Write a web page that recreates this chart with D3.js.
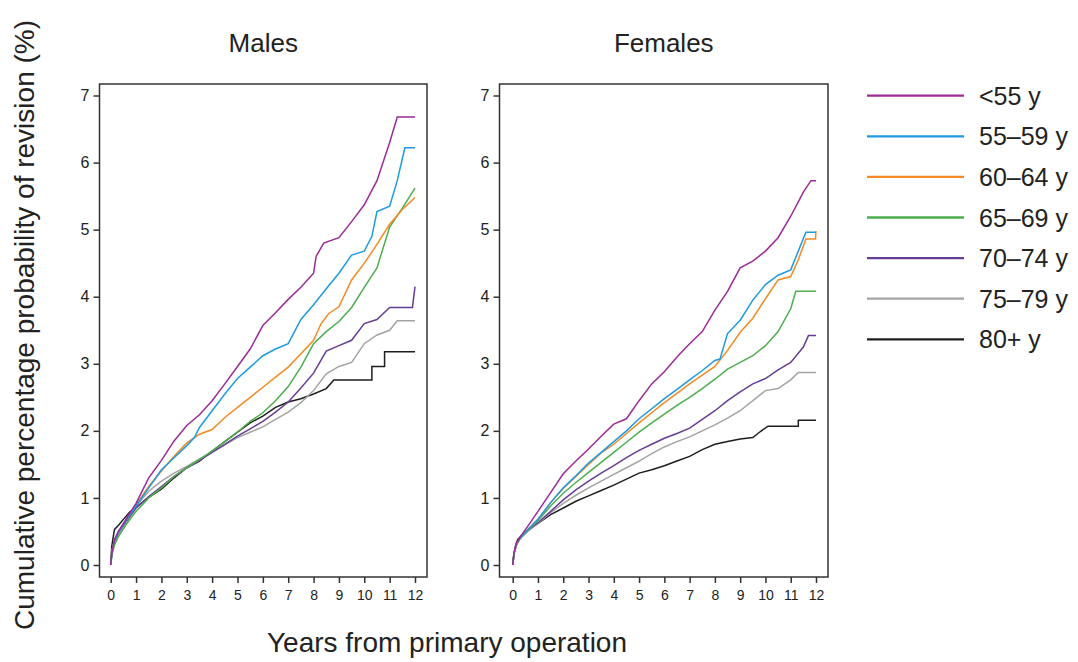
<!DOCTYPE html>
<html>
<head>
<meta charset="utf-8">
<script src="https://cdn.jsdelivr.net/npm/d3@7"></script>
<style>
  body { margin: 0; background: #fff; }
  text { font-family: "Liberation Sans", Arial, Helvetica, sans-serif; fill: #222; }
</style>
</head>
<body>
<div id="chart"></div>
<script>
  var width = 1078;
  var height = 662;

  // age groups for the legend
  var ageGroups = ["<55 y", "55\u201359 y", "60\u201364 y", "65\u201369 y", "70\u201374 y", "75\u201379 y", "80+ y"];
  var lineColors = ["#9c2a98", "#1d9ae0", "#f38a24", "#4cae4c", "#663d94", "#a3a3a3", "#1e1e1e"];

  var yearTicks = [0, 1, 2, 3, 4, 5, 6, 7, 8, 9, 10, 11, 12];
  var pctTicks = [0, 1, 2, 3, 4, 5, 6, 7];

  // males, [years, cumulative %]
  var maleLt55 = [[0,0],[0.05,0.2],[0.15,0.38],[0.3,0.5],[0.6,0.68],[1,0.92],[1.5,1.3],[2,1.56],[2.5,1.85],[3,2.08],[3.5,2.24],[4,2.45],[4.5,2.7],[5,2.96],[5.5,3.22],[6,3.57],[6.5,3.76],[7,3.96],[7.5,4.14],[8,4.35],[8.1,4.6],[8.4,4.8],[9,4.88],[9.5,5.12],[10,5.37],[10.5,5.73],[11,6.3],[11.3,6.68],[12,6.68]];
  var male5559 = [[0,0],[0.05,0.2],[0.15,0.36],[0.3,0.48],[0.6,0.66],[1,0.88],[1.5,1.15],[2,1.42],[2.5,1.6],[3,1.78],[3.3,1.9],[3.5,2.05],[4,2.3],[4.5,2.55],[5,2.78],[5.5,2.95],[6,3.12],[6.5,3.22],[7,3.3],[7.5,3.66],[8,3.88],[8.5,4.12],[9,4.35],[9.5,4.62],[10,4.68],[10.3,4.9],[10.5,5.27],[11,5.35],[11.3,5.73],[11.6,6.22],[12,6.22]];
  var male6064 = [[0,0],[0.05,0.22],[0.15,0.38],[0.3,0.48],[0.6,0.66],[1,0.9],[1.5,1.17],[2,1.4],[2.5,1.62],[3,1.82],[3.5,1.95],[4,2.02],[4.5,2.2],[5,2.35],[5.5,2.5],[6,2.65],[6.5,2.8],[7,2.95],[7.5,3.15],[8,3.35],[8.3,3.6],[8.6,3.75],[9,3.85],[9.5,4.25],[10,4.5],[10.5,4.78],[11,5.08],[11.5,5.3],[12,5.48]];
  var male6569 = [[0,0],[0.05,0.15],[0.15,0.3],[0.3,0.42],[0.6,0.6],[1,0.8],[1.5,1.0],[2,1.15],[2.5,1.32],[3,1.45],[3.5,1.57],[4,1.7],[4.5,1.84],[5,1.98],[5.5,2.14],[6,2.27],[6.5,2.45],[7,2.66],[7.5,2.95],[8,3.3],[8.5,3.48],[9,3.63],[9.5,3.84],[10,4.14],[10.5,4.43],[11,5.04],[11.5,5.32],[12,5.62]];
  var male7074 = [[0,0],[0.05,0.2],[0.15,0.35],[0.3,0.47],[0.6,0.64],[1,0.85],[1.5,1.02],[2,1.17],[2.5,1.32],[3,1.45],[3.5,1.56],[4,1.68],[4.5,1.8],[5,1.92],[5.5,2.03],[6,2.14],[6.5,2.28],[7,2.43],[7.5,2.64],[8,2.86],[8.5,3.19],[9,3.27],[9.5,3.35],[10,3.6],[10.5,3.66],[11,3.84],[11.9,3.84],[12,4.15]];
  var male7579 = [[0,0],[0.05,0.2],[0.15,0.36],[0.3,0.48],[0.6,0.66],[1,0.88],[1.5,1.1],[2,1.25],[2.5,1.37],[3,1.47],[3.5,1.58],[4,1.68],[4.5,1.79],[5,1.9],[5.5,1.98],[6,2.06],[6.5,2.17],[7,2.28],[7.5,2.42],[8,2.6],[8.5,2.85],[9,2.96],[9.5,3.02],[10,3.3],[10.5,3.43],[11,3.5],[11.3,3.64],[12,3.64]];
  var male80 = [[0,0],[0.04,0.27],[0.1,0.42],[0.15,0.53],[0.3,0.59],[0.5,0.68],[0.75,0.79],[1,0.86],[1.5,1.01],[2,1.13],[2.5,1.3],[3,1.45],[3.5,1.55],[4,1.7],[4.5,1.84],[5,1.98],[5.5,2.12],[6,2.22],[6.5,2.35],[7,2.43],[7.5,2.48],[8,2.55],[8.5,2.63],[8.8,2.76],[10.3,2.76],[10.3,2.96],[10.8,2.96],[10.8,3.18],[12,3.18]];

  // females
  var femaleLt55 = [[0,0],[0.05,0.18],[0.15,0.33],[0.3,0.42],[0.6,0.58],[1,0.8],[1.5,1.08],[2,1.36],[2.5,1.55],[3,1.73],[3.5,1.92],[4,2.1],[4.5,2.18],[5,2.45],[5.5,2.7],[6,2.88],[6.5,3.1],[7,3.3],[7.5,3.48],[8,3.8],[8.5,4.08],[9,4.43],[9.5,4.53],[10,4.68],[10.5,4.88],[11,5.2],[11.5,5.56],[11.8,5.73],[12,5.73]];
  var female5559 = [[0,0],[0.05,0.17],[0.15,0.32],[0.3,0.4],[0.6,0.53],[1,0.68],[1.5,0.93],[2,1.15],[2.5,1.33],[3,1.52],[3.5,1.68],[4,1.84],[4.5,2.0],[5,2.18],[5.5,2.33],[6,2.48],[6.5,2.62],[7,2.76],[7.5,2.9],[8,3.05],[8.2,3.07],[8.5,3.45],[9,3.65],[9.5,3.95],[10,4.18],[10.5,4.32],[11,4.4],[11.3,4.68],[11.6,4.96],[12,4.96]];
  var female6064 = [[0,0],[0.05,0.17],[0.15,0.3],[0.3,0.4],[0.6,0.53],[1,0.68],[1.5,0.93],[2,1.14],[2.5,1.32],[3,1.5],[3.5,1.67],[4,1.8],[4.5,1.96],[5,2.12],[5.5,2.27],[6,2.42],[6.5,2.56],[7,2.7],[7.5,2.83],[8,2.96],[8.5,3.2],[9,3.47],[9.5,3.68],[10,3.97],[10.5,4.25],[11,4.3],[11.3,4.55],[11.6,4.86],[11.98,4.86],[12,4.98]];
  var female6569 = [[0,0],[0.05,0.17],[0.15,0.3],[0.3,0.4],[0.6,0.52],[1,0.66],[1.5,0.88],[2,1.07],[2.5,1.23],[3,1.38],[3.5,1.53],[4,1.68],[4.5,1.83],[5,1.98],[5.5,2.12],[6,2.25],[6.5,2.38],[7,2.5],[7.5,2.63],[8,2.77],[8.5,2.92],[9,3.02],[9.5,3.12],[10,3.27],[10.5,3.48],[11,3.82],[11.2,4.08],[12,4.08]];
  var female7074 = [[0,0],[0.05,0.17],[0.15,0.3],[0.3,0.4],[0.6,0.52],[1,0.63],[1.5,0.8],[2,0.97],[2.5,1.12],[3,1.25],[3.5,1.37],[4,1.48],[4.5,1.6],[5,1.71],[5.5,1.8],[6,1.89],[6.5,1.96],[7,2.04],[7.5,2.17],[8,2.3],[8.5,2.45],[9,2.58],[9.5,2.7],[10,2.78],[10.5,2.91],[11,3.02],[11.5,3.25],[11.7,3.42],[12,3.42]];
  var female7579 = [[0,0],[0.05,0.17],[0.15,0.3],[0.3,0.4],[0.6,0.5],[1,0.62],[1.5,0.78],[2,0.92],[2.5,1.04],[3,1.15],[3.5,1.25],[4,1.35],[4.5,1.45],[5,1.55],[5.5,1.66],[6,1.76],[6.5,1.84],[7,1.91],[7.5,2.0],[8,2.09],[8.5,2.19],[9,2.3],[9.5,2.45],[10,2.6],[10.5,2.63],[11,2.76],[11.3,2.87],[12,2.87]];
  var female80 = [[0,0],[0.05,0.15],[0.12,0.3],[0.2,0.38],[0.5,0.5],[1,0.62],[1.5,0.75],[2,0.85],[2.5,0.95],[3,1.03],[3.5,1.11],[4,1.19],[4.5,1.28],[5,1.37],[5.5,1.42],[6,1.48],[6.5,1.55],[7,1.62],[7.5,1.72],[8,1.8],[8.5,1.84],[9,1.88],[9.5,1.9],[9.8,1.99],[10.1,2.07],[11.3,2.07],[11.3,2.16],[12,2.16]];

  var maleSeries = [maleLt55, male5559, male6064, male6569, male7074, male7579, male80];
  var femaleSeries = [femaleLt55, female5559, female6064, female6569, female7074, female7579, female80];

  var svg = d3.select("#chart").append("svg")
    .attr("width", width)
    .attr("height", height);

  var y = d3.scaleLinear().domain([0, 7]).range([565, 95.5]);

  // one panel per sex
  function drawPanel(title, series, boxLeft, boxRight, x0, x12) {
    var x = d3.scaleLinear().domain([0, 12]).range([x0, x12]);
    var boxTop = 84, boxBottom = 577;
    var g = svg.append("g");

    var line = d3.line()
      .x(function(d) { return x(d[0]); })
      .y(function(d) { return y(d[1]); });

    // draw oldest group first so <55 sits on top
    series.slice().reverse().forEach(function(s, i) {
      var k = series.length - 1 - i;
      g.append("path")
        .datum(s)
        .attr("d", line)
        .attr("fill", "none")
        .attr("stroke", lineColors[k])
        .attr("stroke-width", 1.5)
        .attr("stroke-linejoin", "miter");
    });

    g.append("rect")
      .attr("x", boxLeft).attr("y", boxTop)
      .attr("width", boxRight - boxLeft).attr("height", boxBottom - boxTop)
      .attr("fill", "none").attr("stroke", "#333").attr("stroke-width", 1.5);

    var xAxis = g.append("g")
      .attr("transform", "translate(0," + boxBottom + ")")
      .call(d3.axisBottom(x).tickValues(yearTicks).tickFormat(d3.format("d")).tickSize(6).tickPadding(7));
    xAxis.select(".domain").remove();
    xAxis.selectAll("line").attr("stroke", "#333").attr("stroke-width", 1.5);
    xAxis.selectAll("text").style("font-size", "14px").attr("fill", "#222");

    var yAxis = g.append("g")
      .attr("transform", "translate(" + boxLeft + ",0)")
      .call(d3.axisLeft(y).tickValues(pctTicks).tickFormat(d3.format("d")).tickSize(6).tickPadding(4));
    yAxis.select(".domain").remove();
    yAxis.selectAll("line").attr("stroke", "#333").attr("stroke-width", 1.5);
    yAxis.selectAll("text").style("font-size", "16px").attr("fill", "#222");

    g.append("text")
      .attr("x", (boxLeft + boxRight) / 2)
      .attr("y", 52)
      .attr("text-anchor", "middle")
      .style("font-size", "26px")
      .attr("fill", "#1f2f4a")
      .text(title);
  }

  drawPanel("Males", maleSeries, 99.5, 427, 110.7, 415);
  drawPanel("Females", femaleSeries, 499.5, 828, 512.7, 816);

  // axis titles
  svg.append("text")
    .attr("transform", "translate(34,325) rotate(-90)")
    .attr("text-anchor", "middle")
    .style("font-size", "28px")
    .text("Cumulative percentage probability of revision (%)");

  svg.append("text")
    .attr("x", 447)
    .attr("y", 652)
    .attr("text-anchor", "middle")
    .style("font-size", "28px")
    .text("Years from primary operation");

  // legend
  var legend = svg.append("g");
  var legendRow = legend.selectAll("g")
    .data(ageGroups)
    .enter().append("g")
    .attr("transform", function(d, i) { return "translate(0," + (95.7 + i * 40.6) + ")"; });

  legendRow.append("line")
    .attr("x1", 867).attr("x2", 964)
    .attr("stroke", function(d, i) { return lineColors[i]; })
    .attr("stroke-width", 2.3);

  legendRow.append("text")
    .attr("x", 979)
    .attr("y", 9)
    .style("font-size", "25px")
    .text(function(d) { return d; });
</script>
</body>
</html>
